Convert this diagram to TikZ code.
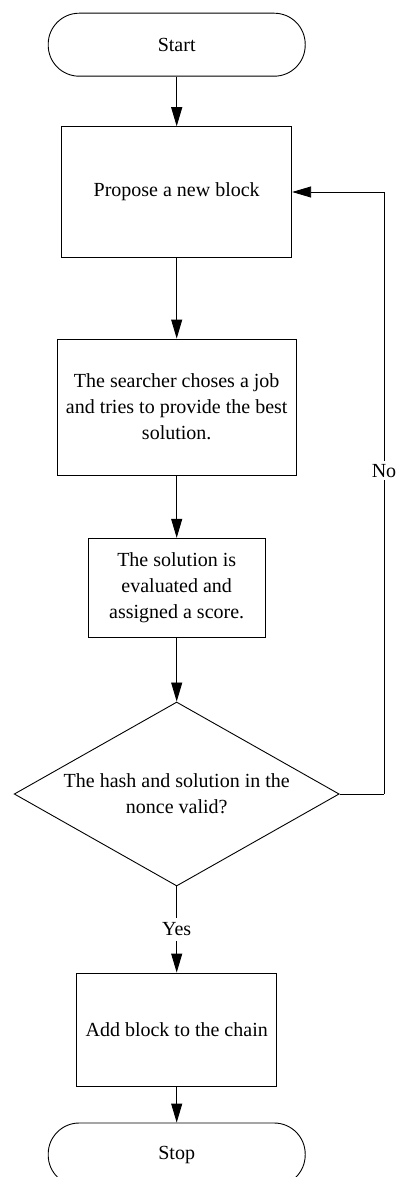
\documentclass[tikz,border=0pt]{standalone}
\usepackage{fontspec}
\setmainfont{Liberation Serif}
\usetikzlibrary{shapes.geometric,arrows.meta}
\begin{document}
\begin{tikzpicture}[x=1pt,y=-1pt,
  every node/.style={font=\fontsize{20}{26}\selectfont},
  terminal/.style={draw,line width=0.9pt,rectangle,rounded corners=31pt,
    minimum width=257pt,minimum height=63pt,inner sep=0pt},
  stepbox/.style={draw,line width=0.9pt,rectangle,inner sep=0pt,align=center},
  decision/.style={draw,line width=0.9pt,diamond,aspect=1.766,inner sep=0pt,
    minimum width=325pt,minimum height=184pt,align=center},
  flow/.style={line width=0.9pt,-{Triangle[length=19pt,width=11pt]}},
  plain/.style={line width=0.9pt},
  tag/.style={fill=white,inner sep=3pt}]
  \useasboundingbox (0,0) rectangle (397,1177);

  % process steps
  \node[terminal] (start) at (176.7,44.7) {Start};
  \node[stepbox,minimum width=230pt,minimum height=130.6pt] (propose) at (176.7,192) {Propose a new block};
  \node[stepbox,minimum width=239pt,minimum height=136pt] (search) at (176.7,407)
    {The searcher choses a job\\and tries to provide the best\\solution.};
  \node[stepbox,minimum width=176.7pt,minimum height=99.4pt] (score) at (176.7,588)
    {The solution is\\evaluated and\\assigned a score.};
  \node[decision] (check) at (176.7,794) {The hash and solution in the\\nonce valid?};
  \node[stepbox,minimum width=200pt,minimum height=113pt] (add) at (176.7,1029.5) {Add block to the chain};
  \node[terminal] (stop) at (176.7,1154.5) {Stop};

  % main flow
  \draw[flow] (start) -- (propose);
  \draw[flow] (propose) -- (search);
  \draw[flow] (search) -- (score);
  \draw[flow] (score) -- (check);
  \draw[flow] (check.south) -- node[tag,inner sep=5pt] {Yes} (add.north);
  \draw[flow] (add) -- (stop);

  % retry loop
  \coordinate (loopb) at (384,794);
  \coordinate (loopt) at (384,192);
  \draw[plain] (check.east) -- (loopb);
  \draw[flow] (loopb) -- node[tag,pos=0.537] {No} (loopt) -- (propose.east);
\end{tikzpicture}
\end{document}
